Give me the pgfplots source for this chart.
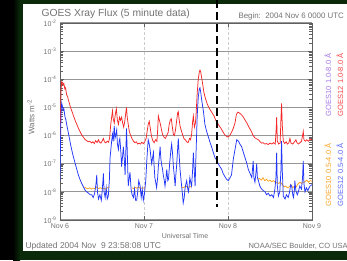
\documentclass[border=0pt]{standalone}
\usepackage{fontspec}
\setmainfont{Liberation Sans}
\usepackage{pgfplots}
\pgfplotsset{compat=1.18}
\definecolor{bggreen}{RGB}{10,42,10}
\definecolor{txtgray}{RGB}{115,115,115}
\definecolor{gridgray}{RGB}{150,150,150}
\definecolor{goesred}{RGB}{245,40,40}
\definecolor{goesblue}{RGB}{35,55,250}
\definecolor{goesorange}{RGB}{250,165,40}
\definecolor{goespurple}{RGB}{165,120,235}
\begin{document}
\begin{tikzpicture}
\useasboundingbox (0pt,0pt) rectangle (347pt,260pt);
\fill[bggreen] (0pt,0pt) rectangle (347pt,260pt);
\fill[black] (0pt,0pt) rectangle (13pt,260pt);
\shade[left color=black, right color=bggreen] (13pt,0pt) rectangle (20pt,260pt);
\fill[white] (23pt,9pt) rectangle (347pt,256pt);
\begin{axis}[
  at={(60pt,40pt)}, anchor=south west, scale only axis,
  width=252pt, height=197pt,
  xmin=0, xmax=72, ymode=log, ymin=1e-9, ymax=1e-2,
  xtick={0,24,48,72}, xticklabels={Nov 6,Nov 7,Nov 8,Nov 9},
  ytick={1e-9,1e-8,1e-7,1e-6,1e-5,1e-4,1e-3,1e-2},
  yticklabels={10\textsuperscript{-9},10\textsuperscript{-8},10\textsuperscript{-7},10\textsuperscript{-6},10\textsuperscript{-5},10\textsuperscript{-4},10\textsuperscript{-3},10\textsuperscript{-2}},
  ymajorgrids, major y grid style={gridgray, line width=1.1pt},
  xmajorgrids, major x grid style={gray!40, densely dashed, line width=0.6pt},
  axis line style={gray!75!black, line width=0.6pt},
  tick style={gray!75!black},
  tick label style={font=\fontsize{7}{8}\selectfont, text=txtgray},
]
% GOES10 0.5-4.0 A (orange), visible at quiet times
\addplot[goesorange, line width=0.8pt] coordinates {(7.0,1.5e-8)(7.5,1.35e-8)(8.0,1.3e-8)(8.5,1.4e-8)(9.0,1.25e-8)(9.5,1.35e-8)(10.0,1.3e-8)(10.5,1.5e-8)(11.0,1.3e-8)(11.5,1.4e-8)(12.0,1.3e-8)(12.5,1.35e-8)(13.0,1.25e-8)(13.5,1.4e-8)(14.0,1.5e-8)};
\addplot[goesorange, line width=0.8pt] coordinates {(20.5,1.4e-8)(21.0,1.3e-8)(21.5,1.45e-8)(22.0,1.35e-8)(22.5,1.5e-8)(23.0,1.3e-8)(23.5,1.4e-8)(24.0,1.35e-8)(24.3,1.5e-8)};
\addplot[goesorange, line width=0.8pt] coordinates {(34.8,1.5e-8)(35.2,1.4e-8)(35.6,1.5e-8)(36.0,1.6e-8)(36.5,1.45e-8)(37.0,1.5e-8)(37.5,1.6e-8)};
\addplot[goesorange, line width=0.8pt] coordinates {(56.5,2.8e-8)(57.0,3.0e-8)(57.5,2.6e-8)(58.0,3.2e-8)(58.5,2.5e-8)(59.0,2.8e-8)(59.5,2.4e-8)(60.0,2.6e-8)(60.5,2.3e-8)(61.0,2.5e-8)(61.5,2.2e-8)(62.5,2.0e-8)(63.0,2.2e-8)(64.0,1.5e-8)(64.5,1.6e-8)(65.0,1.4e-8)(65.5,1.5e-8)(66.0,1.8e-8)(66.5,1.4e-8)(67.0,1.6e-8)(67.5,1.5e-8)(68.0,1.9e-8)(68.5,2.2e-8)(69.0,2.0e-8)(70.0,2.3e-8)(70.5,2.6e-8)(71.0,2.2e-8)(71.5,2.5e-8)(72.0,2.4e-8)};
% GOES12 1.0-8.0 A (red)
\addplot[goesred, line width=0.75pt] coordinates {
(0.0,5.6e-7)(0.15,6.3e-6)(0.3,4.0e-5)(0.5,8.3e-5)(0.7,7.6e-5)(0.9,6.3e-5)(1.1,7.1e-5)(1.4,4.5e-5)(1.6,5.0e-5)(1.9,2.8e-5)
(2.2,2.4e-5)(2.4,1.8e-5)(2.7,1.4e-5)(2.9,1.1e-5)(3.3,7.9e-6)(3.6,6.3e-6)(3.8,5.2e-6)(4.1,4.2e-6)(4.3,3.5e-6)(4.8,2.5e-6)
(5.2,1.9e-6)(5.7,1.4e-6)(6.2,1.05e-6)(6.7,8.7e-7)(7.1,7.4e-7)(7.6,6.6e-7)(8.1,6.0e-7)(8.5,6.3e-7)(9.0,5.5e-7)(9.4,6.0e-7)
(9.8,5.2e-7)(10.2,6.6e-7)(10.6,5.6e-7)(11.0,7.1e-7)(11.3,5.8e-7)(11.7,5.4e-7)(12.1,6.6e-7)(12.4,7.9e-7)(12.7,6.0e-7)(13.1,5.5e-7)
(13.5,6.3e-7)(13.9,5.8e-7)(14.2,8.9e-7)(14.5,2.5e-6)(14.8,5.0e-6)(15.0,7.6e-6)(15.2,4.0e-6)(15.5,2.8e-6)(15.8,5.6e-6)(16.1,8.9e-6)
(16.4,3.5e-6)(16.7,2.5e-6)(17.0,4.5e-6)(17.3,3.5e-6)(17.6,4.5e-6)(17.9,2.8e-6)(18.2,2.0e-6)(18.5,3.2e-6)(18.8,6.3e-6)(19.0,1.0e-5)
(19.2,4.5e-6)(19.5,2.5e-6)(19.8,1.4e-6)(20.2,1.0e-6)(20.6,7.6e-7)(21.0,6.3e-7)(21.4,5.6e-7)(21.8,6.0e-7)(22.2,5.0e-7)(22.6,5.4e-7)
(23.0,5.0e-7)(23.4,5.8e-7)(23.8,5.2e-7)(24.2,6.0e-7)(24.6,7.9e-7)(24.9,1.4e-6)(25.2,2.5e-6)(25.5,3.2e-6)(25.8,1.8e-6)(26.1,1.0e-6)
(26.5,6.6e-7)(26.9,5.6e-7)(27.3,7.1e-7)(27.7,6.3e-7)(27.9,1.6e-6)(28.1,5.0e-6)(28.4,3.5e-6)(28.7,2.5e-6)(29.0,1.6e-6)(29.3,1.1e-6)
(29.7,8.9e-7)(30.1,7.9e-7)(30.5,1.0e-6)(30.9,1.3e-6)(31.2,2.5e-6)(31.5,3.5e-6)(31.8,4.0e-6)(32.1,2.0e-6)(32.4,1.1e-6)(32.7,1.0e-6)
(33.0,1.6e-6)(33.3,3.2e-6)(33.6,6.3e-6)(33.8,7.1e-6)(34.0,4.0e-6)(34.3,2.2e-6)(34.6,1.6e-6)(35.0,1.1e-6)(35.4,7.9e-7)(35.8,7.1e-7)
(36.2,6.0e-7)(36.6,5.6e-7)(37.0,7.9e-7)(37.3,7.1e-7)(37.6,1.1e-6)(37.9,3.2e-6)(38.1,5.0e-6)(38.4,2.0e-6)(38.7,2.8e-6)(38.9,6.3e-6)
(39.2,3.2e-5)(39.5,1.0e-4)(39.8,1.8e-4)(40.0,2.1e-4)(40.2,1.8e-4)(40.5,1.1e-4)(40.8,6.3e-5)(41.1,3.5e-5)(41.5,2.2e-5)(42.0,1.4e-5)
(42.5,1.0e-5)(43.0,7.9e-6)(43.5,6.3e-6)(44.0,5.0e-6)(44.5,3.5e-6)(45.0,2.8e-6)(45.5,2.2e-6)(46.0,1.8e-6)(46.5,1.4e-6)(47.0,1.1e-6)
(47.5,9.5e-7)(48.0,8.9e-7)(48.5,1.0e-6)(49.0,1.3e-6)(49.5,1.8e-6)(50.0,2.8e-6)(50.4,5.6e-6)(50.8,6.8e-6)(51.3,6.3e-6)(51.9,5.4e-6)
(52.4,4.5e-6)(52.9,3.5e-6)(53.4,2.8e-6)(53.8,2.2e-6)(54.3,1.7e-6)(54.8,1.3e-6)(55.2,1.0e-6)(55.7,8.3e-7)(56.2,7.6e-7)(56.7,7.1e-7)
(57.2,6.0e-7)(57.6,5.4e-7)(58.0,5.6e-7)(58.5,5.0e-7)(59.0,5.2e-7)(59.5,4.8e-7)(60.0,5.4e-7)(60.5,5.0e-7)(61.0,5.6e-7)(61.5,5.0e-7)
(61.8,2.0e-6)(61.9,4.5e-6)(62.1,6.3e-7)(62.5,5.0e-7)(62.9,5.4e-7)(63.1,3.2e-6)(63.3,1.4e-5)(63.5,2.5e-6)(63.8,6.3e-7)(64.2,5.2e-7)
(64.6,6.0e-7)(65.0,5.0e-7)(65.4,5.6e-7)(65.7,7.9e-7)(66.0,5.4e-7)(66.5,5.0e-7)(67.0,6.0e-7)(67.4,7.1e-7)(67.7,5.6e-7)(68.1,5.0e-7)
(68.6,5.6e-7)(69.0,6.3e-7)(69.3,1.0e-6)(69.5,1.4e-6)(69.7,7.1e-7)(70.1,6.3e-7)(70.5,7.1e-7)(71.0,6.3e-7)(71.5,7.6e-7)(72.0,7.1e-7)};
% GOES12 0.5-4.0 A (blue)
\addplot[goesblue, line width=0.75pt] coordinates {
(0.0,2.5e-8)(0.15,6.3e-7)(0.3,6.3e-6)(0.48,1.45e-5)(0.7,1.1e-5)(0.9,7.9e-6)(1.1,8.9e-6)(1.43,4.6e-6)(1.7,3.5e-6)(1.9,2.5e-6)
(2.1,1.9e-6)(2.38,1.26e-6)(2.7,7.9e-7)(3.0,5.0e-7)(3.33,3.2e-7)(3.8,1.8e-7)(4.29,1.07e-7)(4.8,6.3e-8)(5.24,4.0e-8)(5.7,2.8e-8)
(6.19,2.0e-8)(6.7,1.5e-8)(7.14,1.17e-8)(7.6,1.0e-8)(8.1,9.1e-9)(8.6,7.9e-9)(9.05,7.9e-9)(9.5,6.3e-9)(9.9,8.9e-9)(10.3,2.0e-8)
(10.5,4.0e-8)(10.7,1.0e-8)(11.0,5.6e-9)(11.4,7.9e-9)(11.8,5.0e-9)(12.1,1.26e-8)(12.4,4.5e-8)(12.6,1.0e-8)(12.9,6.3e-9)(13.2,1.4e-8)
(13.5,5.6e-9)(13.8,7.1e-9)(14.1,2.5e-8)(14.3,1.6e-7)(14.6,4.0e-7)(14.8,7.1e-7)(15.0,1.1e-6)(15.2,6.3e-7)(15.5,2.2e-6)(15.7,7.9e-7)
(15.9,1.0e-6)(16.2,1.6e-6)(16.4,5.0e-7)(16.7,3.2e-7)(16.9,6.3e-7)(17.1,7.9e-7)(17.4,2.5e-7)(17.6,7.9e-8)(17.9,2.0e-7)(18.1,4.0e-7)
(18.4,1.26e-7)(18.6,4.0e-8)(18.8,2.5e-7)(19.0,1.8e-6)(19.2,3.2e-7)(19.5,1.6e-8)(19.8,3.2e-8)(20.0,5.0e-8)(20.3,1.26e-8)(20.6,7.9e-9)
(21.0,6.3e-9)(21.3,1.26e-8)(21.6,5.0e-9)(21.9,5.0e-9)(22.2,1.0e-8)(22.5,2.5e-8)(22.9,1.6e-8)(23.2,6.3e-9)(23.5,1.26e-8)(23.8,5.0e-9)
(24.1,7.9e-9)(24.5,2.5e-8)(24.8,1.26e-7)(25.0,3.2e-7)(25.2,7.1e-7)(25.5,5.0e-7)(25.7,3.5e-7)(26.0,1.6e-7)(26.2,1.0e-7)(26.5,1.8e-7)
(26.7,2.5e-7)(26.9,7.9e-8)(27.1,3.2e-8)(27.4,2.0e-8)(27.6,1.4e-8)(27.9,3.2e-8)(28.1,7.9e-8)(28.4,2.0e-7)(28.6,4.0e-7)(28.8,1.6e-7)
(29.0,1.0e-7)(29.3,6.3e-8)(29.5,4.0e-8)(29.8,2.5e-8)(30.0,1.6e-8)(30.3,3.2e-8)(30.5,6.3e-8)(30.8,2.5e-8)(31.0,2.8e-8)(31.2,6.3e-8)
(31.4,1.26e-7)(31.7,3.2e-7)(31.9,5.0e-7)(32.2,2.0e-7)(32.4,7.9e-8)(32.7,3.2e-8)(32.9,1.6e-8)(33.1,4.0e-8)(33.3,7.9e-8)(33.6,3.2e-7)
(33.8,7.9e-7)(34.0,2.5e-7)(34.3,6.3e-8)(34.6,2.5e-8)(34.8,1.4e-8)(35.0,7.9e-9)(35.2,4.0e-9)(35.5,6.3e-9)(35.7,1.26e-8)(36.0,2.0e-8)
(36.2,2.5e-8)(36.5,1.26e-8)(36.7,1.0e-8)(36.9,1.6e-8)(37.1,3.2e-8)(37.4,2.0e-8)(37.6,1.6e-8)(37.9,6.3e-8)(38.1,2.5e-7)(38.3,7.9e-8)
(38.6,1.6e-8)(38.8,1.26e-7)(39.0,7.9e-7)(39.2,5.0e-6)(39.5,2.3e-5)(39.8,4.5e-5)(40.0,5.0e-5)(40.2,3.5e-5)(40.5,1.8e-5)(40.8,1.0e-5)
(41.0,7.1e-6)(41.4,2.5e-6)(41.9,1.4e-6)(42.4,8.9e-7)(42.9,5.6e-7)(43.3,4.0e-7)(43.8,2.5e-7)(44.3,1.6e-7)(44.7,1.4e-7)(45.2,1.0e-7)
(45.7,7.9e-8)(46.2,6.3e-8)(46.6,4.5e-8)(47.1,3.5e-8)(47.6,2.8e-8)(48.1,2.5e-8)(48.6,3.2e-8)(49.0,4.0e-8)(49.5,1.4e-7)(50.0,3.2e-7)
(50.5,7.1e-7)(51.0,6.3e-7)(51.4,5.0e-7)(51.9,4.0e-7)(52.4,2.5e-7)(52.9,1.6e-7)(53.4,1.0e-7)(53.8,6.3e-8)(54.3,4.5e-8)(54.8,3.2e-8)
(55.0,6.3e-8)(55.2,1.26e-7)(55.4,3.2e-8)(55.7,2.2e-8)(56.0,5.0e-8)(56.2,1.0e-7)(56.4,3.2e-8)(56.7,2.5e-8)(57.1,1.6e-8)(57.6,1.26e-8)
(58.1,1.1e-8)(58.6,1.0e-8)(59.0,7.9e-9)(59.5,8.9e-9)(60.0,7.1e-9)(60.5,7.9e-9)(61.0,6.3e-9)(61.4,1.26e-8)(61.7,3.2e-8)(61.9,2.5e-7)
(62.1,1.6e-8)(62.4,7.1e-9)(62.8,1.0e-8)(63.1,5.0e-8)(63.3,6.3e-7)(63.5,6.3e-8)(63.8,7.1e-9)(64.3,5.6e-9)(64.7,7.9e-9)(65.2,6.3e-9)
(65.6,1.0e-8)(65.9,1.8e-8)(66.2,1.6e-8)(66.5,7.9e-9)(66.7,6.3e-9)(67.0,1.26e-8)(67.1,2.5e-8)(67.4,1.1e-8)(67.8,7.9e-9)(68.1,1.0e-8)
(68.5,1.6e-8)(69.0,1.26e-8)(69.3,3.2e-8)(69.5,1.26e-7)(69.7,2.0e-8)(70.0,1.0e-8)(70.4,1.4e-8)(70.8,1.1e-8)(71.0,1.26e-8)(71.4,1.6e-8)
(72.0,1.8e-8)};
% flare class letters on the right
\node[anchor=west, font=\fontsize{6}{7}\selectfont, text=black!70] at (axis cs:72,3.16e-4) [xshift=2pt, yshift=2pt] {X};
\node[anchor=west, font=\fontsize{6}{7}\selectfont, text=black!70] at (axis cs:72,3.16e-5) [xshift=2pt, yshift=2pt] {M};
\node[anchor=west, font=\fontsize{6}{7}\selectfont, text=black!70] at (axis cs:72,3.16e-6) [xshift=2pt, yshift=2pt] {C};
\node[anchor=west, font=\fontsize{6}{7}\selectfont, text=black!70] at (axis cs:72,3.16e-7) [xshift=2pt, yshift=2pt] {B};
\node[anchor=west, font=\fontsize{6}{7}\selectfont, text=black!70] at (axis cs:72,3.16e-8) [xshift=2pt, yshift=2pt] {A};
\end{axis}
% texts
\node[anchor=west, font=\fontsize{10.3}{12}\selectfont, text=txtgray] at (38pt,246pt) {GOES Xray Flux (5 minute data)};
\node[anchor=west, font=\fontsize{7.9}{9}\selectfont, text=txtgray] at (235pt,244pt) {Begin:\ \ 2004 Nov 6 0000 UTC};
\node[anchor=west, font=\fontsize{8.5}{10}\selectfont, text=txtgray] at (22pt,14pt) {Updated 2004 Nov\ \ 9 23:58:08 UTC};
\node[anchor=west, font=\fontsize{7.5}{9}\selectfont, text=txtgray] at (245pt,14pt) {NOAA/SEC Boulder, CO USA};
\node[rotate=90, font=\fontsize{8}{9}\selectfont, text=txtgray] at (31pt,143pt) {Watts m\textsuperscript{-2}};
\node[font=\fontsize{7}{8}\selectfont, text=txtgray] at (185pt,24pt) {Universal Time};
\node[rotate=90, anchor=east, font=\fontsize{7.5}{9}\selectfont, text=goesred!85] at (340pt,210pt) {GOES12 1.0-8.0 Å};
\node[rotate=90, anchor=east, font=\fontsize{7.5}{9}\selectfont, text=goespurple] at (328pt,210pt) {GOES10 1.0-8.0 Å};
\node[rotate=90, anchor=east, font=\fontsize{7.5}{9}\selectfont, text=goesblue!75] at (340pt,120pt) {GOES12 0.5-4.0 Å};
\node[rotate=90, anchor=east, font=\fontsize{7.5}{9}\selectfont, text=goesorange] at (328pt,120pt) {GOES10 0.5-4.0 Å};
% dashed marker line
\draw[black, line width=2.2pt, dash pattern=on 8pt off 4pt] (217pt,260pt) -- (217pt,53pt);
\end{tikzpicture}
\end{document}
